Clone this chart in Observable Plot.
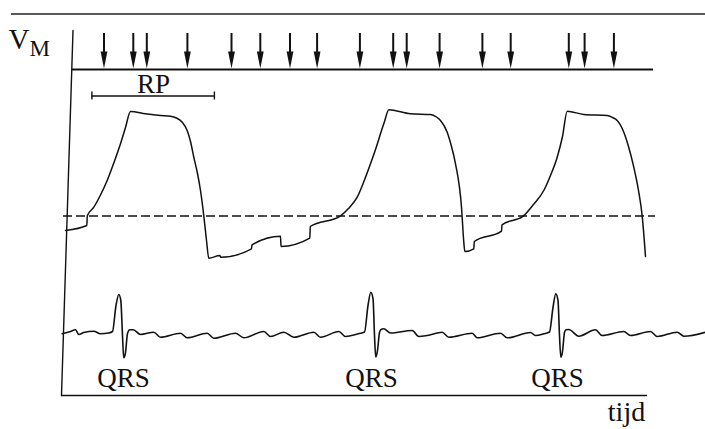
<!DOCTYPE html>
<html>
<head>
<meta charset="utf-8">
<script src="https://cdn.jsdelivr.net/npm/d3@7"></script>
<script src="https://cdn.jsdelivr.net/npm/@observablehq/plot@0.6"></script>
<style>
  html, body { margin: 0; padding: 0; background: #fff; }
  #chart svg { display: block; background: #fff; }
</style>
</head>
<body>
<div id="chart"></div>
<script>
// ---- data (time units along x, drawing levels along y; y grows downward) ----
// atrial impulses (arrows) along the time axis
const impulseTimes = [103.5, 132.8, 146.3, 186.9, 231, 259.8, 289.5, 316.6, 359.4,
                      392.7, 406.2, 439.1, 481.9, 510.2, 568.3, 584.1, 613.4];
const impulseTop = 33;      // level where arrow shafts start
const impulseLevel = 69;    // baseline the arrows hit
const impulseStart = 72, impulseEnd = 653;

// refractory period bar
const rpStart = 91.4, rpEnd = 213.9, rpLevel = 95.5;

// membrane potential V_M (AV node cell) : time, level
const apT = [65, 86.3, 86.8, 93.3, 100, 106.7, 113.3, 120, 125, 130, 145, 160, 170, 176, 181.7, 186.7, 190, 193.3, 197, 200, 203.3, 206, 208.3,
             219.3, 220.3, 251, 251.5, 280, 280.5, 309.3, 309.8, 340, 348, 356.7, 363, 370, 375, 380, 384, 388.3,
             410, 430, 436, 440, 446.7, 451, 455, 461, 463.3, 464.3,
             473.3, 473.8, 501, 501.5, 522.7, 533, 543.3, 550, 556.7, 562, 566.7,
             583.3, 606.7, 612, 616.7, 623.3, 628, 633.3, 638, 641.7, 645];
const apV = [230, 225, 215.3, 206.7, 194.5, 180, 162.5, 143.3, 127, 111, 113.3, 115, 115.7, 117.5, 121.7, 130, 141, 156.7, 173, 190, 215.3, 240, 257.7,
             255, 256.8, 248.3, 244.3, 235.7, 246, 237.7, 226, 215.3, 208, 196.7, 182, 163.3, 149, 133.3, 121, 109.3,
             113.3, 114, 116.5, 120, 131.7, 146, 163.3, 206.7, 241.7, 251,
             248.3, 241, 230.7, 224.3, 215.7, 204, 190, 175, 156.7, 136, 110.7,
             114, 115, 117, 120, 131.7, 146, 166.7, 190, 215.7, 256];

// threshold (dashed)
const threshold = 215.5, thrStart = 63, thrEnd = 655;

// ECG trace : time, level
const ecgT = [61.7, 70, 75, 78.3, 83.3, 93.3, 100, 108, 112, 115.5, 118.3, 120.3, 122, 123.2, 125, 127, 129.3, 132.7, 140,
              153.3, 160, 180, 186.7, 206.7, 213.3, 235, 243.3, 263.3, 270, 283.3, 293.3, 313.3, 320, 338.3, 345, 360,
              364, 367.5, 370.3, 372.5, 374, 375.2, 377, 379, 380.5, 383.3, 390, 411.7, 418.3, 426.7, 441.7, 448.3,
              471.7, 476.7, 500, 506.7, 530, 535, 543.3, 549, 552.5, 555.3, 557.5, 559, 560.3, 562, 564, 565.5, 568.3,
              578.3, 595, 601.7, 623.3, 630, 650, 656.7, 676.7, 683.3, 705];
const ecgV = [333.3, 331, 329.3, 334, 332, 330.7, 333.3, 332.5, 331, 305, 294, 300, 335, 357.3, 352, 333, 329.3, 329.3, 334,
              331.7, 336.7, 332.7, 337.3, 332.7, 337.7, 332.7, 337.3, 331, 336, 331.7, 336.7, 331.7, 336.7, 331, 336, 332.7,
              331.5, 305, 291.7, 298, 335, 356.5, 350, 332, 329, 328.3, 332.5, 330, 336, 335, 331.7, 336.7,
              332.7, 337.3, 332.7, 337.3, 332, 335, 333.3, 331.5, 307, 293.3, 300, 335, 356.7, 351, 332, 329.3, 329,
              335.7, 329.3, 335, 331, 335, 331, 336, 331.7, 335.7, 331.7];

const qrsTimes = [123, 371, 557];
const qrsLabel = "QRS";

// frame lines
const topRule = {x1: 11, x2: 705, y: 13.5};
const vAxis = [{t: 72.5, v: 30}, {t: 61, v: 395}];
const tAxis = {x1: 61, x2: 647, y: 395};

// texts
const axisLabel = [
  {t: 8, v: 48, text: "V", size: 29},
  {t: 29, v: 55, text: "M", size: 23}
];
const labels = [
  {t: 153, v: 92, text: "RP", size: 27},
  {t: 626, v: 420, text: "tijd", size: 28}
];

// ---- build ----
const ap = apT.map((t, i) => ({t, v: apV[i]}));
const ecg = ecgT.map((t, i) => ({t, v: ecgV[i]}));

const arrowHead = {
  draw(context) {
    context.moveTo(-3.4, -17);
    context.lineTo(3.4, -17);
    context.lineTo(0, 0);
    context.closePath();
  }
};

const ink = "#111";
const serif = "Liberation Serif, Times New Roman, serif";

const chart = Plot.plot({
  width: 705,
  height: 429,
  margin: 0,
  x: {domain: [0, 705], range: [0, 705], axis: null},
  y: {domain: [0, 429], range: [0, 429], axis: null},
  marks: [
    // top rule
    Plot.ruleY([topRule], {x1: "x1", x2: "x2", y: "y", stroke: "#222", strokeWidth: 1.6}),
    // V_M axis and time axis
    Plot.line(vAxis, {x: "t", y: "v", stroke: ink, strokeWidth: 1.4}),
    Plot.ruleY([tAxis], {x1: "x1", x2: "x2", y: "y", stroke: ink, strokeWidth: 1.6}),
    // impulse baseline
    Plot.ruleY([impulseLevel], {x1: impulseStart, x2: impulseEnd, stroke: ink, strokeWidth: 1.8}),
    // impulse arrows
    Plot.ruleX(impulseTimes, {x: d => d, y1: impulseTop, y2: impulseLevel - 12, stroke: ink, strokeWidth: 2}),
    Plot.dot(impulseTimes, {x: d => d, y: impulseLevel - 1, symbol: arrowHead, fill: ink, stroke: "none"}),
    // RP bar
    Plot.ruleY([rpLevel], {x1: rpStart, x2: rpEnd, stroke: ink, strokeWidth: 1.4}),
    Plot.ruleX([rpStart, rpEnd], {x: d => d, y1: rpLevel - 4, y2: rpLevel + 4, stroke: ink, strokeWidth: 1.4}),
    // threshold
    Plot.ruleY([threshold], {x1: thrStart, x2: thrEnd, stroke: ink, strokeWidth: 1.4, strokeDasharray: "9,4"}),
    // membrane potential
    Plot.line(ap, {x: "t", y: "v", curve: "monotone-x", stroke: ink, strokeWidth: 1.5}),
    // ECG
    Plot.line(ecg, {x: "t", y: "v", curve: "monotone-x", stroke: ink, strokeWidth: 1.6}),
    // QRS labels
    Plot.text(qrsTimes, {x: d => d, y: 386, text: () => qrsLabel, fontSize: 27, fontFamily: serif, fill: ink, lineAnchor: "bottom", textAnchor: "middle"}),
    // V_M label
    Plot.text(axisLabel, {x: "t", y: "v", text: "text", fontSize: "size", fontFamily: serif, fill: ink, lineAnchor: "bottom", textAnchor: "start"}),
    // other labels
    Plot.text(labels, {x: "t", y: "v", text: "text", fontSize: "size", fontFamily: serif, fill: ink, lineAnchor: "bottom", textAnchor: "middle"})
  ]
});
document.getElementById("chart").appendChild(chart);
</script>
</body>
</html>
